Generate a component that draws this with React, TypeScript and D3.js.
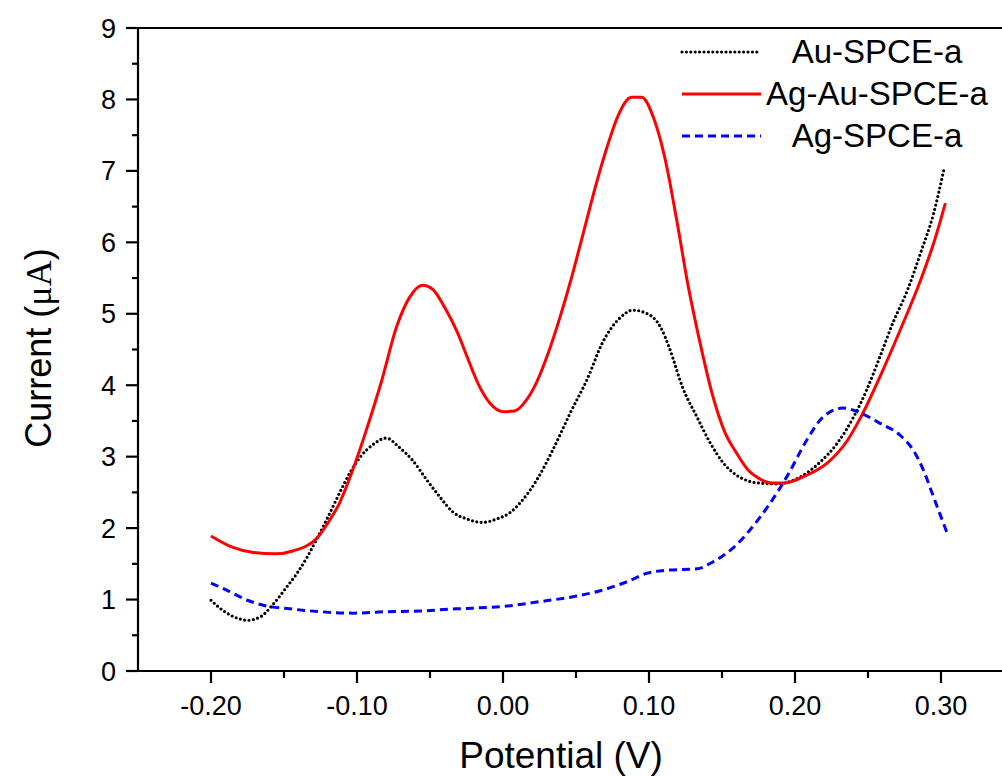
import React, { useEffect, useRef } from 'react';
import * as d3 from 'd3';

// Au-SPCE-a (black dotted)
const auPotential = [-0.2, -0.192, -0.182, -0.175, -0.166, -0.158, -0.148, -0.141, -0.134, -0.127, -0.121, -0.112, -0.105, -0.098, -0.089, -0.08, -0.071, -0.062, -0.052, -0.043, -0.034, -0.025, -0.014, -0.004, 0.005, 0.012, 0.023, 0.034, 0.046, 0.058, 0.068, 0.08, 0.089, 0.099, 0.108, 0.114, 0.123, 0.133, 0.142, 0.151, 0.16, 0.168, 0.176, 0.188, 0.203, 0.217, 0.229, 0.24, 0.249, 0.258, 0.267, 0.277, 0.286, 0.295, 0.302];
const auCurrent = [0.99, 0.85, 0.74, 0.71, 0.76, 0.92, 1.18, 1.37, 1.6, 1.87, 2.11, 2.49, 2.77, 2.99, 3.17, 3.26, 3.13, 2.95, 2.67, 2.43, 2.22, 2.13, 2.08, 2.13, 2.22, 2.36, 2.67, 3.09, 3.61, 4.1, 4.59, 4.94, 5.05, 5.0, 4.81, 4.52, 3.97, 3.55, 3.19, 2.91, 2.74, 2.66, 2.63, 2.62, 2.71, 2.92, 3.19, 3.55, 3.93, 4.39, 4.87, 5.33, 5.85, 6.41, 7.02];

// Ag-Au-SPCE-a (red solid)
const agAuPotential = [-0.2, -0.185, -0.171, -0.156, -0.144, -0.127, -0.12, -0.112, -0.103, -0.093, -0.083, -0.073, -0.064, -0.055, -0.048, -0.04, -0.031, -0.025, -0.017, -0.009, 0.0, 0.008, 0.016, 0.023, 0.031, 0.039, 0.047, 0.055, 0.064, 0.072, 0.079, 0.088, 0.095, 0.103, 0.111, 0.119, 0.127, 0.135, 0.143, 0.152, 0.16, 0.168, 0.175, 0.184, 0.192, 0.208, 0.222, 0.236, 0.245, 0.258, 0.272, 0.286, 0.295, 0.303];
const agAuCurrent = [1.89, 1.73, 1.66, 1.64, 1.68, 1.87, 2.07, 2.35, 2.81, 3.41, 4.07, 4.81, 5.23, 5.4, 5.34, 5.09, 4.73, 4.42, 4.02, 3.75, 3.63, 3.64, 3.79, 4.04, 4.45, 4.95, 5.51, 6.13, 6.83, 7.38, 7.78, 8.03, 8.03, 7.75, 7.17, 6.31, 5.37, 4.59, 3.9, 3.34, 3.05, 2.81, 2.7, 2.63, 2.63, 2.74, 2.91, 3.23, 3.55, 4.11, 4.77, 5.47, 5.99, 6.55];

// Ag-SPCE-a (blue dashed)
const agPotential = [-0.2, -0.189, -0.175, -0.162, -0.146, -0.125, -0.103, -0.08, -0.057, -0.032, -0.021, 0.003, 0.025, 0.048, 0.066, 0.085, 0.099, 0.112, 0.133, 0.144, 0.158, 0.169, 0.183, 0.195, 0.208, 0.219, 0.233, 0.245, 0.258, 0.272, 0.281, 0.288, 0.295, 0.304];
const agCurrent = [1.23, 1.13, 0.99, 0.91, 0.87, 0.83, 0.81, 0.83, 0.84, 0.87, 0.88, 0.91, 0.97, 1.04, 1.12, 1.25, 1.37, 1.41, 1.43, 1.53, 1.73, 1.97, 2.35, 2.74, 3.23, 3.55, 3.68, 3.61, 3.47, 3.3, 3.09, 2.81, 2.43, 1.94];

const xTicks = [-0.2, -0.1, 0.0, 0.1, 0.2, 0.3];
const xTickLabels = ['-0.20', '-0.10', '0.00', '0.10', '0.20', '0.30'];
const yTicks = [0, 1, 2, 3, 4, 5, 6, 7, 8, 9];

const seriesNames = ['Au-SPCE-a', 'Ag-Au-SPCE-a', 'Ag-SPCE-a'];

const FONT = 'Arial, "Liberation Sans", sans-serif';

const App = () => {
  const svgRef = useRef<SVGSVGElement>(null);

  useEffect(() => {
    const svg = d3.select(svgRef.current);
    svg.selectAll('*').remove();

    const left = 138, top = 28, bottom = 671;
    const x = d3.scaleLinear().domain([-0.25, 0.35]).range([left, 1014]);
    const y = d3.scaleLinear().domain([0, 9]).range([bottom, top]);

    svg.append('rect').attr('width', 1002).attr('height', 776).attr('fill', '#fff');

    const series = [
      { name: seriesNames[0], xs: auPotential, ys: auCurrent, color: '#000', width: 3.2, dash: '0 4.4', cap: 'round' },
      { name: seriesNames[1], xs: agAuPotential, ys: agAuCurrent, color: '#ff0000', width: 3, dash: null, cap: 'butt' },
      { name: seriesNames[2], xs: agPotential, ys: agCurrent, color: '#0000ff', width: 3, dash: '8 5', cap: 'butt' },
    ];

    const line = d3.line<[number, number]>()
      .x(d => x(d[0]))
      .y(d => y(d[1]))
      .curve(d3.curveMonotoneX);

    series.forEach(s => {
      const pts = s.xs.map((v, i) => [v, s.ys[i]] as [number, number]);
      svg.append('path')
        .attr('d', line(pts))
        .attr('fill', 'none')
        .attr('stroke', s.color)
        .attr('stroke-width', s.width)
        .attr('stroke-dasharray', s.dash)
        .attr('stroke-linecap', s.cap)
        .attr('stroke-linejoin', 'round');
    });

    // axes frame
    const axis = svg.append('g').attr('stroke', '#000').attr('stroke-width', 2.2);
    axis.append('line').attr('x1', left).attr('x2', left).attr('y1', top - 1).attr('y2', bottom + 1);
    axis.append('line').attr('x1', left - 1).attr('x2', 1002).attr('y1', bottom).attr('y2', bottom);
    axis.append('line').attr('x1', left - 1).attr('x2', 1002).attr('y1', top).attr('y2', top);

    // y ticks (major + minor)
    d3.range(0, 9.01, 0.5).forEach(v => {
      const major = Math.abs(v - Math.round(v)) < 1e-6;
      axis.append('line')
        .attr('x1', left - (major ? 12 : 6)).attr('x2', left)
        .attr('y1', y(v)).attr('y2', y(v));
    });
    // x ticks (major + minor)
    d3.range(-0.25, 0.351, 0.05).forEach(v => {
      const major = xTicks.some(t => Math.abs(t - v) < 1e-6);
      if (Math.abs(v + 0.25) < 1e-6) return;
      axis.append('line')
        .attr('x1', x(v)).attr('x2', x(v))
        .attr('y1', bottom).attr('y2', bottom + (major ? 12 : 7));
    });

    svg.append('g').selectAll('text').data(yTicks).join('text')
      .attr('x', left - 22).attr('y', d => y(d) + 9.5)
      .attr('text-anchor', 'end')
      .attr('font-family', FONT).attr('font-size', 27)
      .text(d => d);

    svg.append('g').selectAll('text').data(xTicks).join('text')
      .attr('x', d => x(d)).attr('y', 715)
      .attr('text-anchor', 'middle')
      .attr('font-family', FONT).attr('font-size', 27)
      .text((d, i) => xTickLabels[i]);

    svg.append('text')
      .attr('x', 561).attr('y', 768)
      .attr('text-anchor', 'middle')
      .attr('font-family', FONT).attr('font-size', 37)
      .text('Potential (V)');

    const yt = svg.append('text')
      .attr('transform', 'translate(51,348) rotate(-90)')
      .attr('text-anchor', 'middle')
      .attr('font-family', FONT).attr('font-size', 36);
    yt.append('tspan').text('Current (');
    yt.append('tspan').attr('font-family', '"Liberation Serif", "DejaVu Serif", serif').text('μA');
    yt.append('tspan').text(')');

    // legend
    const legendY = [52, 94, 136];
    series.forEach((s, i) => {
      svg.append('line')
        .attr('x1', 682).attr('x2', 761)
        .attr('y1', legendY[i]).attr('y2', legendY[i])
        .attr('stroke', s.color)
        .attr('stroke-width', s.width)
        .attr('stroke-dasharray', s.dash)
        .attr('stroke-linecap', s.cap);
      svg.append('text')
        .attr('x', 877).attr('y', legendY[i] + 11)
        .attr('text-anchor', 'middle')
        .attr('font-family', FONT).attr('font-size', 33)
        .text(s.name);
    });
  }, []);

  return (
    <svg ref={svgRef} width={1002} height={776}
      style={{ position: 'absolute', left: 0, top: 0, display: 'block' }} />
  );
};

export default App;
